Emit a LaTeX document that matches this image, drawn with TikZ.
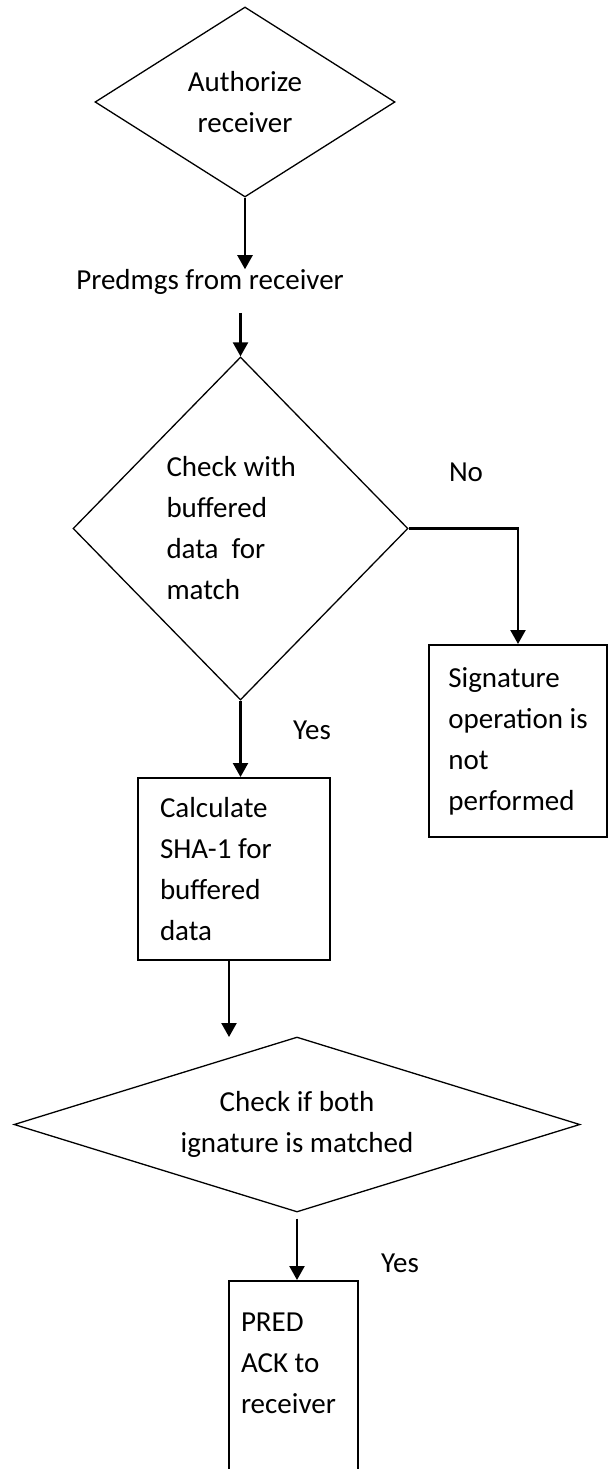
\documentclass[tikz,border=0pt]{standalone}
\usepackage{fontspec}
\setmainfont{Carlito}
\usetikzlibrary{arrows.meta,shapes.geometric}

\tikzset{
  decision/.style={diamond, draw, line width=1.3pt, inner sep=0pt, align=center},
  process/.style={rectangle, draw, line width=2pt, inner sep=0pt, align=flush left},
  flow/.style={line width=2.3pt, -{Triangle[length=14pt,width=15pt]}},
}

\begin{document}
\begin{tikzpicture}[x=1pt, y=-1pt, font=\fontsize{29}{41}\selectfont]
    \useasboundingbox (0,0) rectangle (608,1469);
    \clip (0,0) rectangle (608,1469);

    % top of the chart
    \node[decision, shape aspect=1.5, minimum width=300pt, minimum height=190pt] (auth) at (245,102) {Authorize\\receiver};
    \node[inner sep=0pt] (predmsg) at (210,282) {Predmgs from receiver};
    \node[decision, shape aspect=1, text width=148pt, align=flush left, minimum width=335pt, minimum height=343pt] (check) at (240.5,528.5) {Check with\\buffered\\data~ for\\match};

    % no branch
    \node[process, minimum width=178pt, minimum height=192pt] (notsig) at (518,741) {Signature\\operation is\\not\\performed};
    \node (nolbl) at (466,472) {No};

    % yes branch
    \node[process, text width=148pt, minimum width=192pt, minimum height=182pt] (sha) at (234,869) {Calculate\\SHA-1 for\\buffered\\data};
    \node (yeslbl) at (312,730) {Yes};
    \node[decision, shape aspect=3.3, minimum width=566pt, minimum height=175pt] (match) at (297,1124.5) {Check if both\\ignature is matched};
    \coordinate (matchin) at (229,1037);
    \node[process, text width=105pt, minimum width=129pt, text height=50pt, text depth=220pt, anchor=north] (ack) at (293.5,1280) {PRED\\ACK to\\receiver};
    \node (yeslbl2) at (400,1263) {Yes};

    \draw[flow] (auth.south) -- (auth.south |- predmsg.north);
    \draw[flow, shorten <=18pt] (predmsg.south -| check.north) -- (check.north);
    \draw[flow] (check.east) -| (notsig.north);
    \draw[flow] (check.south) -- (check.south |- sha.north);
    \draw[flow] (sha.south -| matchin) -- (matchin);
    \draw[flow, shorten <=6pt] (match.south) -- (match.south |- ack.north);
\end{tikzpicture}
\end{document}
